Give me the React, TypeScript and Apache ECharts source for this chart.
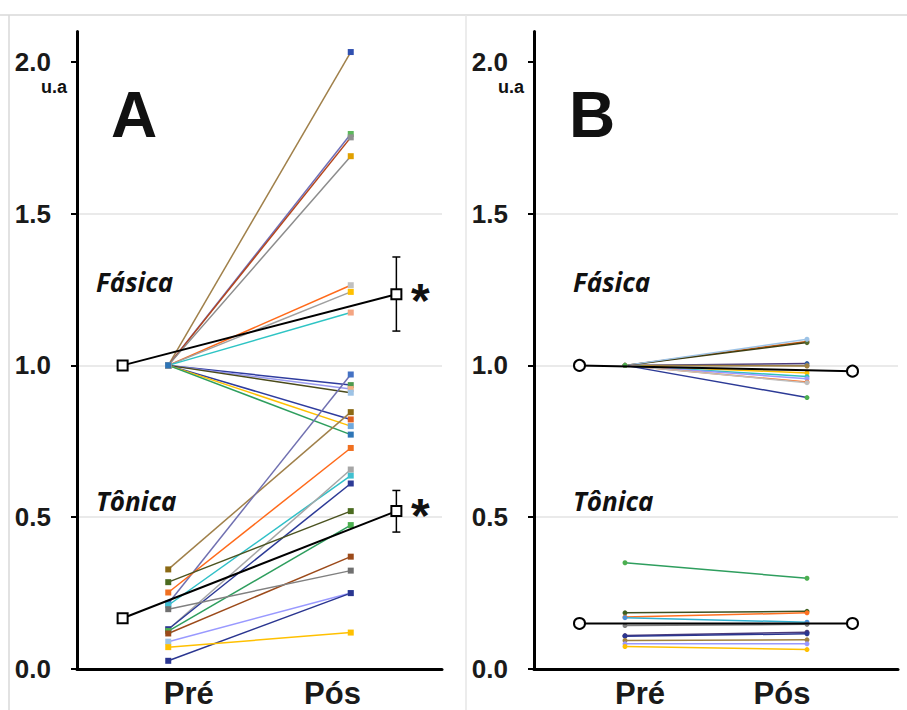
import React, { useEffect, useRef } from "react";
import * as echarts from "echarts";

// ---------- data ----------
const categories = ["Pré", "Pós"];
const yTicks = [0, 0.5, 1.0, 1.5, 2.0];

// Panel A – Fásica (pre normalised to 1.0)
const aFasicaPre = [1, 1, 1, 1, 1, 1, 1, 1, 1, 1, 1, 1, 1];
const aFasicaPos = [2.032, 1.762, 1.751, 1.689, 1.264, 1.242, 1.174, 0.935, 0.922, 0.91, 0.822, 0.8, 0.772];
const aFasicaLine = ["#a0804a", "#6f6fb8", "#b5451b", "#8c8c8c", "#ff6a1a", "#a0a0a0", "#2ec4c4", "#2f3c9e", "#9999ee", "#4a4a1a", "#2f3c9e", "#ffc000", "#2e9e5e"];
const aFasicaMarker = ["#3050b0", "#5cb85c", "#909090", "#e0a000", "#c0c0c0", "#ffc000", "#f4a582", "#4e9a4e", "#f4b183", "#9dc3e6", "#e06020", "#6fa8dc", "#2e75b6"];

// Panel A – Tônica
const aTonicaPre = [0.328, 0.216, 0.252, 0.21, 0.13, 0.131, 0.286, 0.125, 0.117, 0.197, 0.09, 0.027, 0.072];
const aTonicaPos = [0.846, 0.97, 0.728, 0.637, 0.657, 0.611, 0.52, 0.474, 0.37, 0.324, 0.25, 0.25, 0.12];
const aTonicaLine = ["#a0804a", "#7070b0", "#ff6a1a", "#30c0c8", "#a6a6a6", "#2c3a96", "#4b5320", "#2e9e5e", "#9c4a1a", "#808080", "#9999ff", "#2a3590", "#ffc000"];
const aTonicaMarker = ["#8b6914", "#4472c4", "#f07020", "#40c0d0", "#a6a6a6", "#2c3a96", "#4b6b20", "#4caf50", "#9c4a1a", "#707070", "#9dc3e6", "#2a3590", "#ffc000"];

// Panel A – means and error bars [low, high]
const aMeanFasica = [1.0, 1.234];
const aMeanTonica = [0.167, 0.52];
const aErrFasicaPos = [1.113, 1.357];
const aErrTonicaPre = [0.152, 0.182];
const aErrTonicaPos = [0.451, 0.588];

// Panel B – Fásica
const bFasicaPre = [1, 1, 1, 1, 1, 1, 1, 1, 1, 1, 1, 1];
const bFasicaPos = [1.079, 1.075, 1.086, 1.006, 1.0, 0.998, 0.975, 0.963, 0.956, 0.945, 0.943, 0.894];
const bFasicaLine = ["#c55a11", "#3d3d10", "#9dc3e6", "#4b3a7a", "#808080", "#a08040", "#ffc000", "#30c0c0", "#9999ff", "#ff7020", "#bfbfbf", "#2c3a96"];
const bFasicaMarker = ["#c55a11", "#556b2f", "#9dc3e6", "#2e5aa0", "#808080", "#a08040", "#ffc000", "#30c0c0", "#9999ff", "#ff7020", "#bfbfbf", "#4caf50"];

// Panel B – Tônica
const bTonicaPre = [0.35, 0.185, 0.171, 0.169, 0.143, 0.11, 0.108, 0.094, 0.083, 0.074];
const bTonicaPos = [0.299, 0.19, 0.185, 0.154, 0.147, 0.121, 0.116, 0.096, 0.083, 0.064];
const bTonicaLine = ["#2e9e5e", "#3d5020", "#ff7020", "#30b0d0", "#808080", "#4b3a7a", "#2a3590", "#a08040", "#9999ff", "#ffc000"];
const bTonicaMarker = ["#4caf50", "#3d6020", "#ff7020", "#4a90d9", "#808080", "#4b3a7a", "#2a3590", "#a08040", "#9999ff", "#ffc000"];

// Panel B – means
const bMeanFasica = [1.0, 0.981];
const bMeanTonica = [0.15, 0.15];

// x positions on the 0..8 axis: mean-pre, Pré, Pós, mean-post
const X_MEAN_PRE = 1;
const X_PRE = 2;
const X_POS = 6;
const X_MEAN_POS = 7;
const X_LABELS_A = [2.45, 5.6];
const X_LABELS_B = [2.33, 5.45];

const FONT = "'Liberation Sans', Arial, sans-serif";

function subjectSeries(
  axis: number,
  pre: number[],
  pos: number[],
  lineColors: string[],
  markerColors: string[],
  symbol: string,
  size: number
) {
  return pre.map((p, i) => ({
    type: "line",
    xAxisIndex: axis,
    yAxisIndex: axis,
    silent: true,
    z: 2,
    symbol,
    symbolSize: size,
    lineStyle: { color: lineColors[i], width: 1.5 },
    itemStyle: { color: markerColors[i] },
    data: [
      { value: [X_PRE, p], itemStyle: { color: markerColors[i] } },
      { value: [X_POS, pos[i]], itemStyle: { color: markerColors[i] } },
    ],
  }));
}

function meanSeries(axis: number, vals: number[], symbol: string, size: number) {
  return {
    type: "line",
    xAxisIndex: axis,
    yAxisIndex: axis,
    silent: true,
    z: 5,
    symbol,
    symbolSize: size,
    lineStyle: { color: "#000", width: 2 },
    itemStyle: { color: "#fff", borderColor: "#000", borderWidth: 2 },
    data: [
      [X_MEAN_PRE, vals[0]],
      [X_MEAN_POS, vals[1]],
    ],
  };
}

function errorSeries(axis: number, data: number[][]) {
  return {
    type: "custom",
    xAxisIndex: axis,
    yAxisIndex: axis,
    silent: true,
    z: 4,
    renderItem: (_params: any, api: any) => {
      const lo = api.coord([api.value(0), api.value(1)]);
      const hi = api.coord([api.value(0), api.value(2)]);
      const w = 4;
      const st = { stroke: "#000", lineWidth: 1.5 };
      return {
        type: "group",
        children: [
          { type: "line", shape: { x1: lo[0], y1: lo[1], x2: hi[0], y2: hi[1] }, style: st },
          { type: "line", shape: { x1: lo[0] - w, y1: lo[1], x2: lo[0] + w, y2: lo[1] }, style: st },
          { type: "line", shape: { x1: hi[0] - w, y1: hi[1], x2: hi[0] + w, y2: hi[1] }, style: st },
        ],
      };
    },
    data,
  };
}

function xAxis(idx: number, labelPos: number[]) {
  return {
    type: "value",
    gridIndex: idx,
    min: 0,
    max: 8,
    axisLine: { show: true, onZero: false, lineStyle: { color: "#000", width: 3 } },
    axisTick: { show: false },
    splitLine: { show: false },
    axisLabel: {
      customValues: labelPos,
      formatter: (v: number) => (v < 4 ? categories[0] : categories[1]),
      fontFamily: FONT,
      fontWeight: "bold",
      fontSize: 31,
      color: "#1a1a1a",
      margin: 9,
    },
  };
}

function yAxis(idx: number) {
  return {
    type: "value",
    gridIndex: idx,
    min: 0,
    max: 2.1,
    interval: 0.5,
    axisLine: { show: true, lineStyle: { color: "#000", width: 3 } },
    axisTick: { show: true, customValues: yTicks, length: 6, lineStyle: { color: "#000", width: 2 } },
    splitLine: { show: true, showMinLine: false, showMaxLine: false, lineStyle: { color: "#e3e3e3", width: 1.5 } },
    axisLabel: {
      customValues: yTicks,
      formatter: (v: number) => v.toFixed(1),
      fontFamily: FONT,
      fontWeight: "bold",
      fontSize: 26,
      color: "#1a1a1a",
      margin: 26,
    },
  };
}

function txt(x: number, y: number, text: string, font: string, align = "left") {
  return {
    type: "text",
    x,
    y,
    silent: true,
    z: 10,
    style: { text, font, fill: "#111", textAlign: align, textVerticalAlign: "middle" },
  };
}

export default function App() {
  const ref = useRef<HTMLDivElement>(null);
  useEffect(() => {
    if (!ref.current) return;
    const chart = echarts.init(ref.current, undefined, { renderer: "svg" });
    const big = `bold 64px ${FONT}`;
    const lab = `italic bold 26px 'Open Sans', sans-serif`;
    const ua = `bold 18px ${FONT}`;
    const star = `bold 48px ${FONT}`;
    const option: any = {
      animation: false,
      backgroundColor: "#fff",
      grid: [
        { left: 77, top: 31.4, width: 365, height: 637.6, outerBoundsMode: "none", containLabel: false },
        { left: 534, top: 31.4, width: 364, height: 637.6, outerBoundsMode: "none", containLabel: false },
      ],
      xAxis: [xAxis(0, X_LABELS_A), xAxis(1, X_LABELS_B)],
      yAxis: [yAxis(0), yAxis(1)],
      graphic: [
        { type: "line", silent: true, shape: { x1: 0, y1: 15, x2: 907, y2: 15 }, style: { stroke: "#d9d9d9", lineWidth: 1.5 } },
        { type: "line", silent: true, shape: { x1: 9, y1: 15, x2: 9, y2: 710 }, style: { stroke: "#d9d9d9", lineWidth: 1.5 } },
        { type: "line", silent: true, shape: { x1: 466, y1: 15, x2: 466, y2: 710 }, style: { stroke: "#e6e6e6", lineWidth: 1.5 } },
        txt(67, 87, "u.a", ua, "right"),
        txt(524, 87, "u.a", ua, "right"),
        txt(111, 115, "A", big),
        txt(569, 115, "B", big),
        txt(96, 282, "Fásica", lab),
        txt(96, 501, "Tônica", lab),
        txt(573, 282, "Fásica", lab),
        txt(573, 501, "Tônica", lab),
        txt(411, 300, "*", star),
        txt(411, 515, "*", star),
      ],
      series: [
        ...subjectSeries(0, aFasicaPre, aFasicaPos, aFasicaLine, aFasicaMarker, "rect", 6),
        ...subjectSeries(0, aTonicaPre, aTonicaPos, aTonicaLine, aTonicaMarker, "rect", 6),
        ...subjectSeries(1, bFasicaPre, bFasicaPos, bFasicaLine, bFasicaMarker, "circle", 5),
        ...subjectSeries(1, bTonicaPre, bTonicaPos, bTonicaLine, bTonicaMarker, "circle", 5),
        errorSeries(0, [
          [X_MEAN_POS, aErrFasicaPos[0], aErrFasicaPos[1]],
          [X_MEAN_PRE, aErrTonicaPre[0], aErrTonicaPre[1]],
          [X_MEAN_POS, aErrTonicaPos[0], aErrTonicaPos[1]],
        ]),
        meanSeries(0, aMeanFasica, "rect", 10),
        meanSeries(0, aMeanTonica, "rect", 10),
        meanSeries(1, bMeanFasica, "circle", 11),
        meanSeries(1, bMeanTonica, "circle", 11),
      ],
    };
    chart.setOption(option);
    return () => chart.dispose();
  }, []);
  return <div ref={ref} style={{ position: "absolute", left: 0, top: 0, width: 907, height: 710 }} />;
}
